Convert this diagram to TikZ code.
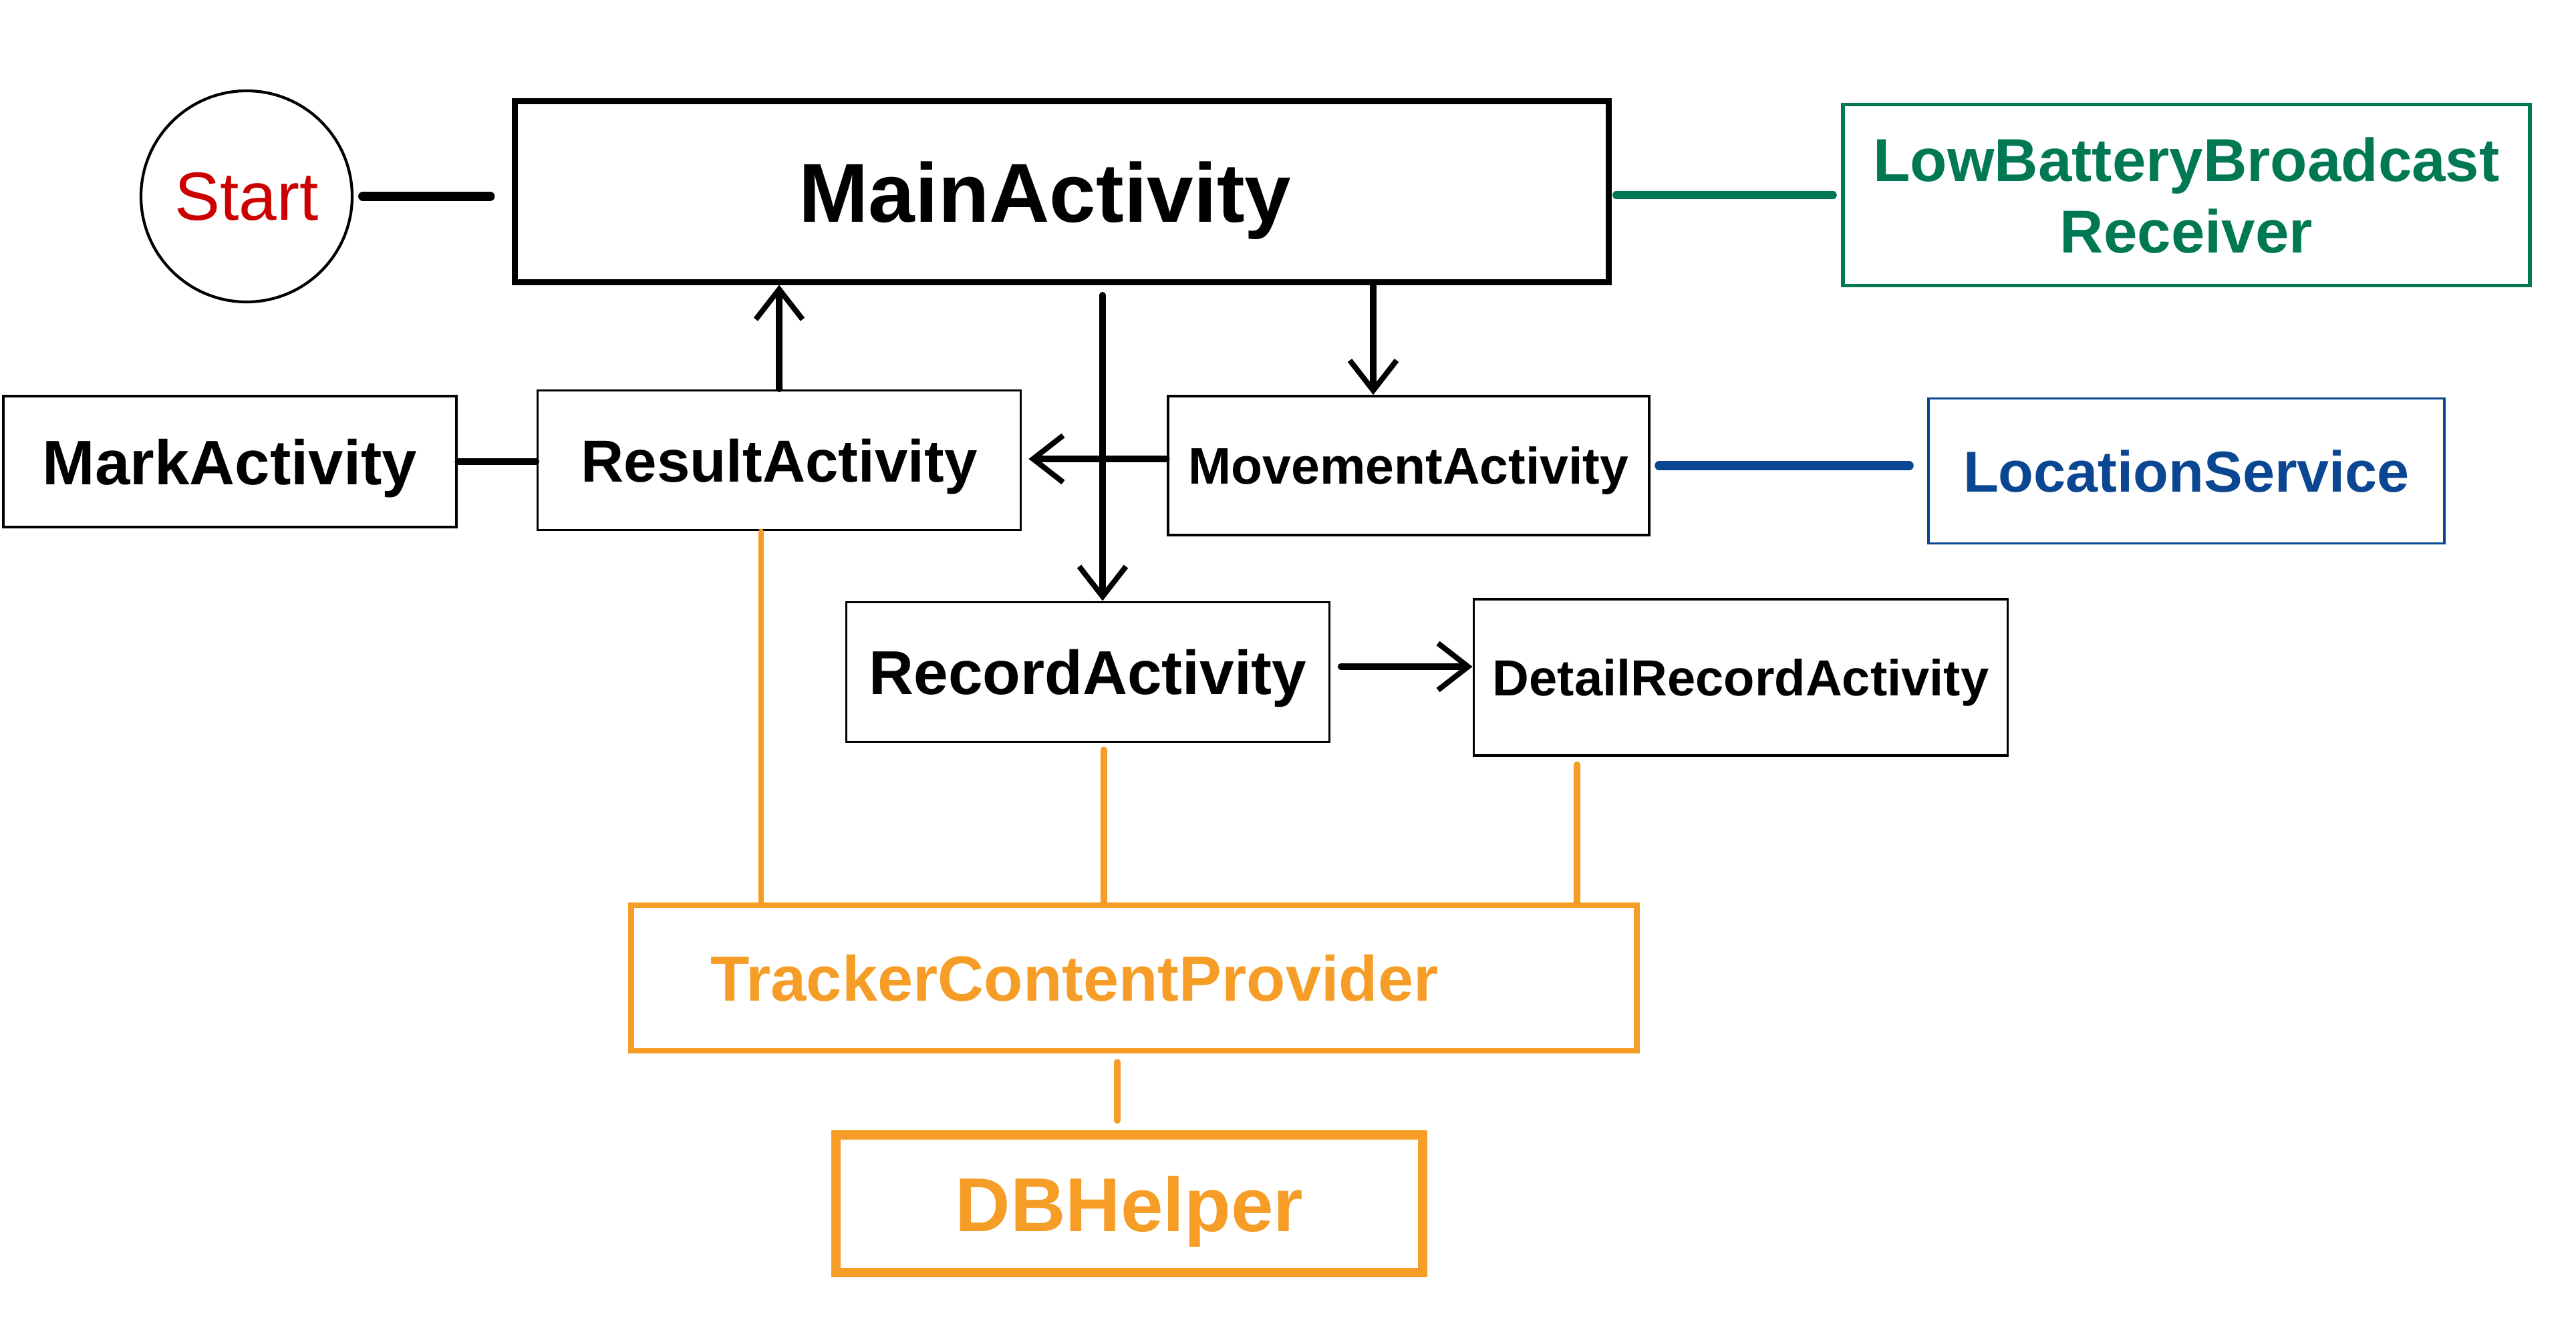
\documentclass[tikz,border=0pt]{standalone}
\usepackage{fontspec}
\setmainfont{Liberation Sans}
\usetikzlibrary{arrows.meta,calc}
\definecolor{startred}{RGB}{204,0,0}
\definecolor{batgreen}{RGB}{0,120,84}
\definecolor{locblue}{RGB}{10,70,145}
\definecolor{dborange}{RGB}{245,157,38}
\tikzset{
	actbox/.style={draw=black, line width=1.1pt, inner sep=0pt, text depth=-0.14cm, font=\bfseries},
	link/.style={line width=2.6pt, line cap=round},
	arr/.style={link, -{Straight Barb[length=4.5mm, width=7mm, line width=2.3pt]}},
	oline/.style={draw=dborange, line width=2.8pt, line cap=round}
}
\newcommand{\fsz}[1]{\fontsize{#1pt}{#1pt}\selectfont}

\begin{document}
\begin{tikzpicture}
			%%%%% START %%%%%
			\useasboundingbox (0, 0) rectangle (38.55, 20);
			
			\node[circle, draw, line width=1.2pt, minimum size=3.16cm, inner sep=0pt, text depth=-0.14cm, text=startred, font=\fsz{29}] (start) at (3.69, 17.06) {Start};
			\node[actbox, line width=2.3pt, minimum width=16.37cm, minimum height=2.71cm, font=\fsz{35.6}\bfseries] (main) at (15.89, 17.13) {\hspace*{-0.5cm}MainActivity};
			\node[actbox, draw=batgreen, text=batgreen, line width=1.5pt, minimum width=10.28cm, minimum height=2.71cm, align=center, font=\fontsize{25.8pt}{30.4pt}\selectfont\bfseries] (lowbat) at (32.72, 17.08) {LowBatteryBroadcast\\Receiver};
			
			\node[actbox, minimum width=6.78cm, minimum height=1.96cm, font=\fsz{26.8}\bfseries] (mark) at (3.44, 13.09) {MarkActivity};
			\node[actbox, minimum width=7.23cm, minimum height=2.09cm, font=\fsz{25.3}\bfseries] (result) at (11.66, 13.11) {ResultActivity};
			\node[actbox, minimum width=7.20cm, minimum height=2.08cm, font=\fsz{21.9}\bfseries] (movement) at (21.08, 13.03) {MovementActivity};
			\node[actbox, draw=locblue, text=locblue, minimum width=7.72cm, minimum height=2.17cm, font=\fsz{24.6}\bfseries] (location) at (32.72, 12.95) {LocationService};
			
			\node[actbox, minimum width=7.23cm, minimum height=2.09cm, font=\fsz{26.4}\bfseries] (record) at (16.28, 9.94) {RecordActivity};
			\node[actbox, minimum width=7.99cm, minimum height=2.34cm, font=\fsz{21.6}\bfseries] (detail) at (26.05, 9.86) {DetailRecordActivity};
			
			\node[actbox, draw=dborange, text=dborange, line width=2.4pt, minimum width=15.05cm, minimum height=2.18cm, inner xsep=1.19cm, text width=12.67cm, align=left, font=\fsz{27.2}\bfseries] (tracker) at (16.97, 5.36) {TrackerContentProvider};
			\node[actbox, draw=dborange, text=dborange, line width=3.8pt, minimum width=8.78cm, minimum height=2.06cm, font=\fsz{32.5}\bfseries] (db) at (16.90, 1.98) {DBHelper};
			
			% black links
			\draw[link, line width=4pt, shorten <=0.14cm, shorten >=0.33cm] (start.east) -- (start.east -| main.west);
			\draw[link, line width=3.2pt, draw=batgreen, shorten <=0.07cm, shorten >=0.12cm] (main.east |- lowbat.west) -- (lowbat.west);
			\draw[arr] (result.north) -- (result.north |- main.south);
			
			\coordinate (recin) at ([xshift=2.2mm]record.north);
			\coordinate (movin) at ([xshift=-5.3mm]movement.north);
			\draw[arr, shorten <=0.15cm] (recin |- main.south) -- (recin);
			\draw[arr] (movin |- main.south) -- (movin);
			
			\draw[arr, shorten >=0.1cm] ([yshift=1mm]movement.west) -- ([yshift=1mm]movement.west -| result.east);
			\draw[link] (mark.east) -- (mark.east -| result.west);
			\draw[link, line width=3.8pt, draw=locblue, shorten <=0.13cm, shorten >=0.27cm] (movement.east) -- (movement.east -| location.west);
			\draw[arr, shorten <=0.15cm] ([yshift=0.8mm]record.east) -- ([yshift=0.8mm]record.east -| detail.west);
			
			% provider links
			\coordinate (resout) at ([xshift=-2.7mm]result.south);
			\coordinate (recout) at ([xshift=2.4mm]record.south);
			\coordinate (detout) at ([xshift=-24.5mm]detail.south);
			\coordinate (tpout) at ([xshift=-2.5mm]tracker.south);
			\draw[oline, line width=2.2pt] (resout) -- (resout |- tracker.north);
			\draw[oline, shorten <=0.1cm] (recout) -- (recout |- tracker.north);
			\draw[oline, shorten <=0.12cm] (detout) -- (detout |- tracker.north);
			\draw[oline, shorten <=0.13cm, shorten >=0.15cm] (tpout) -- (tpout |- db.north);
			
			%%%%% END %%%%%
		\end{tikzpicture}
\end{document}
